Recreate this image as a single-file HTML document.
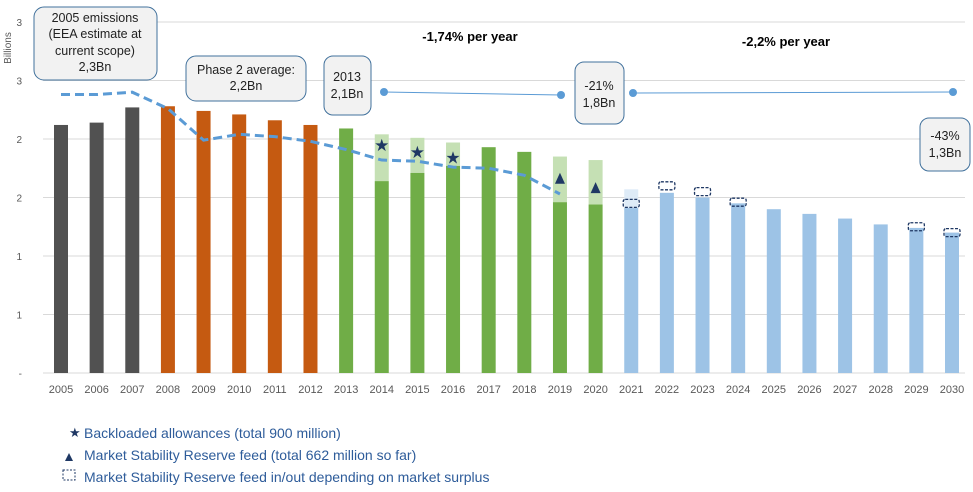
<!DOCTYPE html>
<html><head><meta charset="utf-8"><style>
body{margin:0;background:#fff;font-family:"Liberation Sans",sans-serif}
svg text{font-family:"Liberation Sans",sans-serif}
</style></head><body>
<svg id="c" width="973" height="487" viewBox="0 0 973 487">
<g id="grid"></g><g id="bars"></g><g id="marks"></g><g id="ann"></g>
</svg>
<script>
const years=["2005","2006","2007","2008","2009","2010","2011","2012","2013","2014","2015","2016","2017","2018","2019","2020","2021","2022","2023","2024","2025","2026","2027","2028","2029","2030"];
const baseValues=[2.12,2.14,2.27,2.28,2.24,2.21,2.16,2.12,2.09,1.64,1.71,1.77,1.93,1.89,1.46,1.44,1.41,1.54,1.50,1.45,1.40,1.36,1.32,1.27,1.24,1.20];
const extraTop=[0,0,0,0,0,0,0,0,0,2.04,2.01,1.97,0,0,1.85,1.82,1.57,0,0,0,0,0,0,0,0,0];
const phase=["p1","p1","p1","p2","p2","p2","p2","p2","p3","p3","p3","p3","p3","p3","p3","p3","p4","p4","p4","p4","p4","p4","p4","p4","p4","p4"];
const starYears=["2014","2015","2016"];
const starValues=[1.95,1.89,1.84];
const triYears=["2019","2020"];
const triValues=[1.66,1.58];
const msrYears=["2021","2022","2023","2024","2029","2030"];
const msrValues=[1.45,1.60,1.55,1.46,1.25,1.20];
const trendYears=["2005","2006","2007","2008","2009","2010","2011","2012","2013","2014","2015","2016","2017","2018","2019"];
const trendValues=[2.38,2.38,2.40,2.26,1.99,2.04,2.02,1.98,1.91,1.82,1.81,1.76,1.75,1.69,1.53];
const tickValues=[0,0.5,1,1.5,2,2.5,3];
const tickLabels=["-","1","1","2","2","3","3"];
const colors={p1:"#515151",p2:"#c55a11",p3:"#70ad47",p4:"#9dc3e6"};
const light={p3:"#c5e0b4",p4:"#deebf7"};
const NS="http://www.w3.org/2000/svg";
const y=v=>373-v*117;
const x=yr=>61+years.indexOf(yr)*35.64;
function mk(tag,attrs,parent,txt){const e=document.createElementNS(NS,tag);for(const k in attrs)e.setAttribute(k,attrs[k]);if(txt!==undefined)e.textContent=txt;document.getElementById(parent).appendChild(e);return e;}
tickValues.forEach((v,i)=>{
 const l=mk("line",{x1:43,x2:965,y1:y(v),y2:y(v),stroke:"#d9d9d9","stroke-width":1},"grid");
 
 
 const t=mk("text",{x:22,y:y(v)+4,"font-size":10,fill:"#595959","text-anchor":"end"},"grid",tickLabels[i]);
 
 
});
const yt=mk("text",{x:0,y:0,"font-size":10,fill:"#595959",transform:"translate(11,48) rotate(-90)","text-anchor":"middle"},"grid","Billions");


years.forEach((yr,i)=>{
 const cx=x(yr),p=phase[i];
 if(extraTop[i]>0){
  const r=mk("rect",{x:cx-7,y:y(extraTop[i]),width:14,height:y(baseValues[i])-y(extraTop[i]),fill:light[p]},"bars");
  
  
 }
 const b=mk("rect",{x:cx-7,y:y(baseValues[i]),width:14,height:373-y(baseValues[i]),fill:colors[p]},"bars");
 
 
 const t=mk("text",{x:cx,y:393,"font-size":11,fill:"#595959","text-anchor":"middle"},"bars",yr);
 
 
});
const tr=mk("polyline",{points:trendYears.map((yr,i)=>x(yr)+","+y(trendValues[i])).join(" "),fill:"none",stroke:"#5b9bd5","stroke-width":3,"stroke-dasharray":"9,5"},"marks");


starYears.forEach((yr,i)=>{
 const s=mk("text",{x:x(yr),y:y(starValues[i])+6,"font-size":17,fill:"#1f3864","text-anchor":"middle"},"marks","★");
 
 
});
triYears.forEach((yr,i)=>{
 const cx=x(yr),cy=y(triValues[i]);
 const t=mk("polygon",{points:`${cx},${cy-6} ${cx-5},${cy+5} ${cx+5},${cy+5}`,fill:"#1f3864"},"marks");
 
 
});
msrYears.forEach((yr,i)=>{
 const r=mk("rect",{x:x(yr)-8,y:y(msrValues[i])-4,width:16,height:8,rx:2,fill:"none",stroke:"#1f3864","stroke-width":1.3,"stroke-dasharray":"3,1.5"},"marks");
 
 
});
</script>
<svg style="position:absolute;left:0;top:0" width="973" height="487">
<g font-size="12.5" fill="#222" text-anchor="middle">
<rect x="34" y="7" width="123" height="73" rx="10" fill="#f2f2f2" stroke="#41719c"/>
<text x="95" y="22">2005 emissions</text><text x="95" y="38">(EEA estimate at</text><text x="95" y="55">current scope)</text><text x="95" y="71">2,3Bn</text>
<rect x="186" y="56" width="120" height="45" rx="10" fill="#f2f2f2" stroke="#41719c"/>
<text x="246" y="74">Phase 2 average:</text><text x="246" y="90">2,2Bn</text>
<rect x="324" y="56" width="47" height="59" rx="9" fill="#f2f2f2" stroke="#41719c"/>
<text x="347" y="81">2013</text><text x="347" y="98">2,1Bn</text>
<rect x="575" y="62" width="49" height="62" rx="9" fill="#f2f2f2" stroke="#41719c"/>
<text x="599" y="90">-21%</text><text x="599" y="107">1,8Bn</text>
<rect x="920" y="118" width="50" height="53" rx="9" fill="#f2f2f2" stroke="#41719c"/>
<text x="945" y="140">-43%</text><text x="945" y="157">1,3Bn</text>
</g>
<line x1="384" y1="92" x2="561" y2="95" stroke="#5b9bd5"/><circle cx="384" cy="92" r="4" fill="#5b9bd5"/><circle cx="561" cy="95" r="4" fill="#5b9bd5"/>
<line x1="633" y1="93" x2="953" y2="92" stroke="#5b9bd5"/><circle cx="633" cy="93" r="4" fill="#5b9bd5"/><circle cx="953" cy="92" r="4" fill="#5b9bd5"/>
<text x="470" y="41" font-size="13" font-weight="bold" text-anchor="middle" fill="#000">-1,74% per year</text>
<text x="786" y="46" font-size="13" font-weight="bold" text-anchor="middle" fill="#000">-2,2% per year</text>
<g font-size="14" fill="#2e5c9a">
<text x="69" y="437" fill="#1f3864" font-size="13">★</text><text x="84" y="438">Backloaded allowances (total 900 million)</text>
<polygon points="69,453 65,461 73,461" fill="#1f3864"/><text x="84" y="460">Market Stability Reserve feed (total 662 million so far)</text>
<rect x="63" y="470" width="12" height="10" fill="none" stroke="#1f3864" stroke-dasharray="2,1.5"/><text x="84" y="482">Market Stability Reserve feed in/out depending on market surplus</text>
</g>
</svg>
</body></html>
